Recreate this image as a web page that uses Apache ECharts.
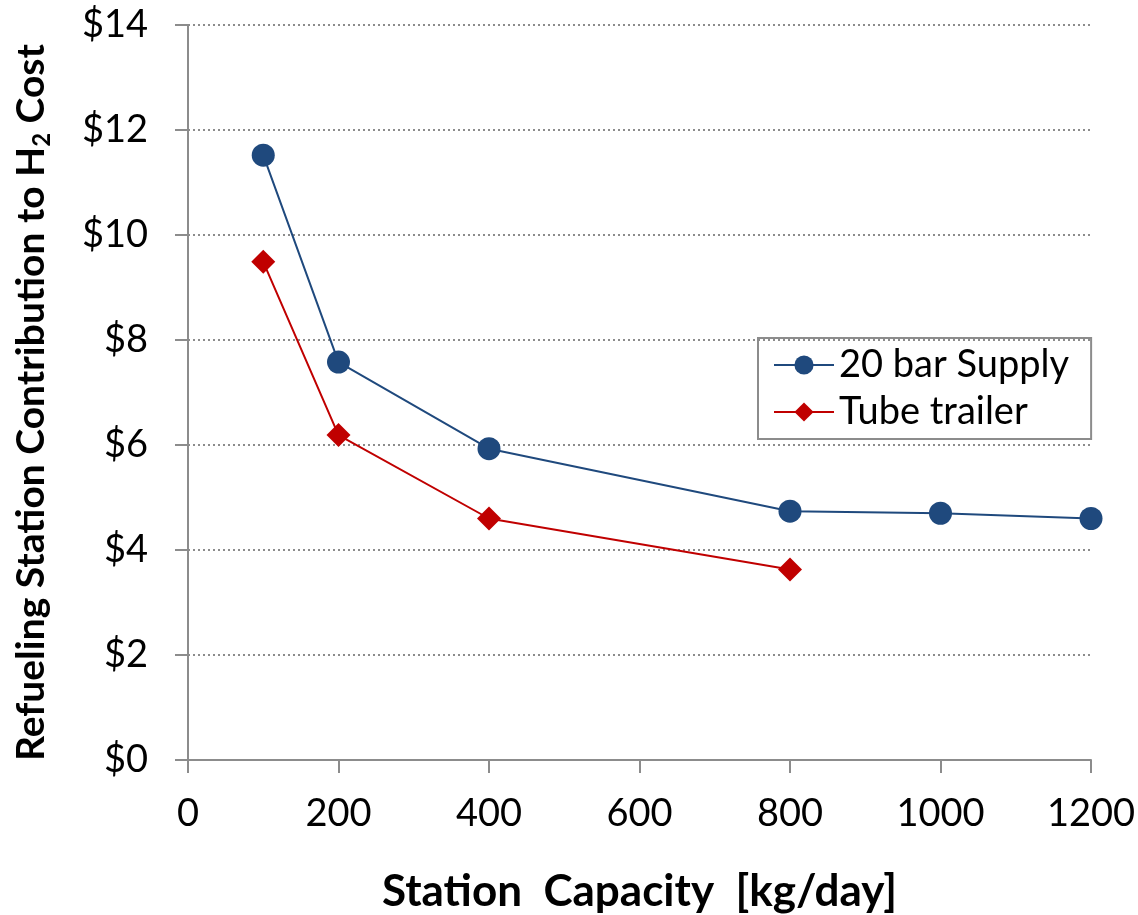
<!DOCTYPE html>
<html>
<head>
<meta charset="utf-8">
<script src="https://cdn.jsdelivr.net/npm/echarts@6/dist/echarts.min.js"></script>
<style>html,body{margin:0;padding:0;background:#fff}#c{width:1138px;height:915px}</style>
</head>
<body>
<div id="c"></div>
<script>
var capacities20 = [100, 200, 400, 800, 1000, 1200];
var supply20 = [11.52, 7.58, 5.93, 4.74, 4.70, 4.60];
var capacitiesTube = [100, 200, 400, 800];
var tubeTrailer = [9.49, 6.19, 4.60, 3.63];
var seriesNames = ['20 bar Supply', 'Tube trailer'];
var xTicks = [0, 200, 400, 600, 800, 1000, 1200];
var yTicks = [0, 2, 4, 6, 8, 10, 12, 14];

function pairs(xs, ys) { return xs.map(function (x, i) { return [x, ys[i]]; }); }

var chart = echarts.init(document.getElementById('c'));
var font = 'Lato, "Open Sans", sans-serif';
chart.setOption({
  animation: false,
  backgroundColor: '#ffffff',
  grid: { left: 188, right: 47, top: 25, bottom: 155, containLabel: false, outerBoundsMode: 'none' },
  legend: {
    orient: 'vertical',
    left: 758, top: 338,
    padding: [8, 22, 8, 15],
    borderColor: '#8c8c8c', borderWidth: 2,
    itemWidth: 60, itemHeight: 24, itemGap: 9,
    textStyle: { fontFamily: font, fontSize: 38, color: '#000' },
    data: seriesNames
  },
  xAxis: {
    type: 'value', min: xTicks[0], max: xTicks[xTicks.length - 1], interval: 200,
    name: 'Station  Capacity  [kg/day]', nameLocation: 'middle', nameGap: 110,
    nameTextStyle: { fontFamily: font, fontSize: 44, fontWeight: 'bold', color: '#000' },
    axisLine: { lineStyle: { color: '#8c8c8c', width: 2 } },
    axisTick: { show: true, length: 13, lineStyle: { color: '#8c8c8c', width: 2 } },
    axisLabel: { fontFamily: font, fontSize: 38, color: '#000', margin: 35, formatter: function (v) { return String(v); } },
    splitLine: { show: false }
  },
  yAxis: {
    type: 'value', min: yTicks[0], max: yTicks[yTicks.length - 1], interval: 2,
    name: '{a|Refueling Station Contribution to H}{s|2}{a| Cost}',
    nameLocation: 'middle', nameRotate: 90, nameGap: 134,
    nameTextStyle: {
      fontFamily: font, fontSize: 39, fontWeight: 'bold', color: '#000',
      padding: [0, 20, 0, 0],
      rich: {
        a: { fontFamily: font, fontSize: 39, fontWeight: 'bold', color: '#000', lineHeight: 46, verticalAlign: 'middle' },
        s: { fontFamily: font, fontSize: 24, fontWeight: 'bold', color: '#000', lineHeight: 46, verticalAlign: 'bottom', padding: [16, 0, 0, 0] }
      }
    },
    axisLine: { show: true, lineStyle: { color: '#8c8c8c', width: 2 } },
    axisTick: { show: true, length: 13, lineStyle: { color: '#8c8c8c', width: 2 } },
    axisLabel: { fontFamily: font, fontSize: 38, color: '#000', margin: 40, formatter: function (v) { return '$' + v; } },
    splitLine: { show: true, lineStyle: { color: '#8c8c8c', width: 2, type: [2, 3] } }
  },
  series: [
    {
      name: seriesNames[0], type: 'line', data: pairs(capacities20, supply20),
      symbol: 'circle', symbolSize: 23,
      lineStyle: { color: '#1F497D', width: 2 }, itemStyle: { color: '#1F497D' }, z: 3
    },
    {
      name: seriesNames[1], type: 'line', data: pairs(capacitiesTube, tubeTrailer),
      symbol: 'diamond', symbolSize: [24, 24],
      lineStyle: { color: '#C00000', width: 2 }, itemStyle: { color: '#C00000' }, z: 2
    }
  ]
});
</script>
</body>
</html>
